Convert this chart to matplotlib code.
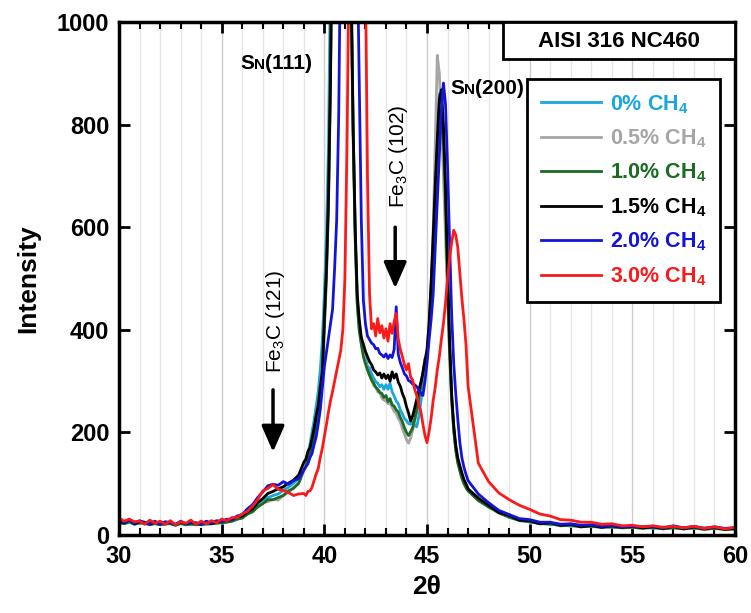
import numpy as np
import matplotlib
matplotlib.use("Agg")
import matplotlib.pyplot as plt
from matplotlib.patches import Rectangle
from matplotlib.offsetbox import TextArea, HPacker, AnnotationBbox
from matplotlib.ticker import MultipleLocator

plt.rcParams["font.family"] = ["Liberation Sans", "DejaVu Sans"]
plt.rcParams["mathtext.fontset"] = "custom"
plt.rcParams["mathtext.rm"] = "Liberation Sans"
plt.rcParams["mathtext.it"] = "Liberation Sans:italic"
plt.rcParams["mathtext.bf"] = "Liberation Sans:bold"

# Scan positions (2-theta): coarse before the S-phase peaks, fine across them, coarse in the tail
two_theta = np.concatenate([
    np.arange(30.0, 38.76, 0.25),
    np.round(np.arange(39.0, 46.95, 0.1), 1),
    np.arange(47.0, 60.01, 0.5),
])

labels = ["0% CH$_\\mathbf{4}$", "0.5% CH$_\\mathbf{4}$", "1.0% CH$_\\mathbf{4}$",
          "1.5% CH$_\\mathbf{4}$", "2.0% CH$_\\mathbf{4}$", "3.0% CH$_\\mathbf{4}$"]
colors = ["#1aa7dc", "#a6a6a6", "#1b6b24", "#000000", "#1414d8", "#fa1a1a"]

# ---- 0% CH4 ----
cyan_a = [24, 22, 25, 21, 23, 22, 20, 23, 20, 21,
          23, 19, 22, 21, 20, 23, 20, 21, 22, 24,
          24, 26, 27, 31, 34, 41, 47, 57, 65, 73,
          77, 80, 87, 93, 101, 110]
cyan_b = [132, 144, 161, 177, 201, 223, 251, 279, 321, 379,
          470, 580, 760, 1100, 1500, 2100, 2700, 3000, 3000, 2750,
          2250, 1680, 1280, 1060, 800, 600, 460, 410, 381, 359,
          346, 329, 326, 314, 306, 299, 296, 289, 293, 284,
          293, 284, 296, 279, 271, 261, 256, 244, 236, 227,
          223, 217, 216, 221, 214, 211, 231, 259, 296, 329,
          352, 400, 480, 575, 680, 780, 860, 850, 780, 650,
          495, 365, 268, 208, 170, 145, 128, 114, 103, 95]
cyan_c = [88, 70, 54, 46, 34, 31, 25, 24, 20, 21, 17, 19, 16, 17,
          15, 16, 14, 16, 13, 15, 14, 14, 13, 14, 12, 13, 11]

# ---- 0.5% CH4 ----
gray_a = [26, 23, 25, 24, 22, 24, 21, 23, 22, 21,
          23, 20, 23, 21, 22, 20, 23, 22, 22, 24,
          25, 26, 29, 30, 36, 40, 47, 54, 63, 65,
          69, 68, 77, 83, 93, 101]
gray_b = [131, 139, 151, 164, 181, 199, 223, 247, 281, 314,
          410, 510, 650, 890, 1290, 1870, 2450, 2850, 2950, 2750,
          2250, 1680, 1280, 1080, 790, 590, 455, 401, 371, 353,
          337, 323, 311, 303, 291, 289, 279, 277, 267, 263,
          261, 256, 257, 249, 241, 237, 227, 221, 207, 197,
          186, 179, 189, 204, 223, 239, 263, 287, 313, 339,
          360, 410, 490, 600, 760, 935, 900, 800, 700, 580,
          460, 350, 262, 205, 168, 142, 126, 112, 102, 94]
gray_c = [88, 70, 56, 43, 36, 29, 27, 22, 22, 19, 19, 16, 18, 15,
          16, 15, 15, 14, 15, 12, 15, 12, 14, 11, 14, 11, 12]

# ---- 1.0% CH4 ----
green_a = [25, 22, 26, 21, 24, 23, 21, 22, 20, 22,
           22, 19, 23, 20, 22, 20, 21, 22, 22, 23,
           24, 25, 27, 31, 33, 41, 45, 55, 61, 69,
           69, 73, 77, 86, 91, 101]
green_b = [126, 134, 149, 158, 176, 194, 216, 238, 271, 303,
           400, 500, 640, 880, 1280, 1850, 2400, 2800, 2900, 2700,
           2200, 1650, 1250, 1050, 780, 580, 450, 398, 372, 348,
           334, 322, 312, 302, 296, 288, 284, 278, 276, 268,
           272, 260, 266, 254, 251, 244, 240, 229, 221, 209,
           200, 194, 201, 209, 226, 244, 266, 289, 318, 344,
           348, 396, 470, 560, 660, 750, 820, 830, 770, 650,
           490, 360, 265, 205, 165, 140, 125, 110, 100, 92]
green_c = [86, 67, 55, 43, 35, 28, 26, 22, 22, 18, 19, 16, 17, 15,
           16, 14, 15, 13, 15, 12, 14, 12, 14, 11, 13, 11, 12]

# ---- 1.5% CH4 ----
black_a = [27, 24, 29, 22, 26, 25, 21, 25, 22, 23,
           25, 20, 25, 22, 24, 23, 21, 26, 22, 25,
           27, 29, 30, 35, 37, 45, 51, 63, 71, 81,
           85, 90, 94, 101, 107, 117]
black_b = [142, 148, 163, 170, 188, 208, 233, 252, 288, 318,
           425, 520, 660, 900, 1300, 1900, 2500, 2900, 3000, 2800,
           2300, 1700, 1300, 1100, 800, 600, 470, 420, 385, 372,
           358, 348, 338, 332, 322, 318, 312, 316, 306, 314,
           305, 312, 300, 318, 306, 314, 298, 290, 276, 266,
           250, 238, 222, 232, 248, 265, 282, 298, 316, 338,
           362, 412, 492, 582, 682, 772, 850, 868, 800, 680,
           520, 380, 275, 215, 175, 150, 135, 121, 108, 100]
black_c = [90, 72, 58, 44, 38, 29, 28, 22, 24, 19, 21, 16, 19, 15,
           18, 15, 17, 14, 16, 13, 17, 12, 16, 12, 15, 11, 13]

# ---- 2.0% CH4 ----
blue_a = [31, 25, 29, 23, 28, 24, 22, 27, 21, 26,
          24, 21, 27, 22, 25, 24, 21, 27, 23, 28,
          26, 31, 30, 37, 40, 51, 59, 73, 84, 96,
          99, 97, 104, 99, 106, 110]
blue_b = [127, 133, 139, 151, 159, 176, 191, 216, 244, 286,
          328, 356, 384, 412, 440, 520, 614, 820, 1200, 1800,
          2400, 2800, 2900, 2600, 2000, 1500, 1150, 880, 614, 458,
          412, 388, 381, 374, 371, 363, 364, 354, 351, 347,
          353, 344, 351, 346, 362, 445, 352, 336, 326, 314,
          310, 301, 299, 294, 293, 289, 283, 276, 272, 300,
          335, 380, 420, 470, 560, 650, 740, 830, 881, 840,
          720, 570, 430, 335, 275, 225, 180, 150, 132, 118]
blue_c = [106, 80, 63, 48, 40, 32, 30, 25, 25, 21, 22, 19, 20, 17,
          19, 16, 17, 16, 17, 14, 18, 14, 17, 13, 16, 13, 14]

# ---- 3.0% CH4 ----
red_a = [33, 27, 31, 26, 27, 21, 29, 23, 27, 21,
         28, 20, 26, 23, 29, 21, 27, 22, 28, 24,
         31, 28, 34, 34, 41, 46, 56, 69, 86, 91,
         98, 89, 87, 83, 77, 80]
red_b = [81, 77, 85, 86, 93, 106, 119, 129, 151, 169,
         192, 215, 240, 262, 280, 300, 320, 340, 360, 400,
         500, 750, 1100, 1600, 2300, 2800, 2900, 2700, 2200, 1600,
         1100, 700, 470, 402, 412, 388, 422, 394, 408, 384,
         402, 378, 412, 393, 416, 432, 382, 362, 348, 332,
         322, 334, 308, 302, 284, 272, 254, 241, 216, 194,
         180, 201, 228, 262, 288, 322, 348, 382, 412, 452,
         500, 540, 570, 594, 585, 560, 510, 460, 420, 370]
red_c = [290, 140, 104, 82, 69, 58, 50, 41, 37, 30, 29, 25, 25, 21,
         22, 18, 19, 16, 18, 15, 17, 14, 17, 13, 16, 12, 15]

series = [cyan_a + cyan_b + cyan_c,
          gray_a + gray_b + gray_c,
          green_a + green_b + green_c,
          black_a + black_b + black_c,
          blue_a + blue_b + blue_c,
          red_a + red_b + red_c]

fig = plt.figure(figsize=(7.51, 6.13), dpi=100)
ax = fig.add_axes([0.1585, 0.1272, 0.8202, 0.8369])

for y, c, lab in zip(series, colors, labels):
    ax.plot(two_theta, y, color=c, lw=2.0, label=lab)

ax.set_xlim(30, 60)
ax.set_ylim(0, 1000)
ax.xaxis.set_major_locator(MultipleLocator(5))
ax.xaxis.set_minor_locator(MultipleLocator(1))
ax.yaxis.set_major_locator(MultipleLocator(200))

ax.set_axisbelow(True)
ax.grid(which="minor", axis="x", color="#e6e6e6", lw=1.0)
ax.grid(which="major", axis="x", color="#cccccc", lw=1.0)

for sp in ax.spines.values():
    sp.set_linewidth(2.5)
ax.tick_params(which="both", direction="in", top=True, right=True)
ax.tick_params(which="major", length=8, width=2, labelsize=17, pad=7)
ax.tick_params(which="minor", length=5, width=1.5)
for t in ax.get_xticklabels() + ax.get_yticklabels():
    t.set_fontweight("bold")

ax.set_xlabel("2θ", fontsize=19, fontweight="bold", labelpad=5)
ax.set_ylabel("Intensity", fontsize=19, fontweight="bold", labelpad=12)


def phase_label(xy, hkl):
    bold = dict(fontsize=15, fontweight="bold", color="black")
    small = dict(fontsize=11, fontweight="bold", color="black")
    box = HPacker(children=[TextArea("S", textprops=bold),
                            TextArea("N", textprops=small),
                            TextArea(hkl, textprops=bold)],
                  align="baseline", pad=0, sep=0)
    ab = AnnotationBbox(box, xy, xycoords="data", frameon=False,
                        box_alignment=(0, 0.5), pad=0)
    ax.add_artist(ab)


phase_label((35.9, 920), "(111)")
phase_label((46.12, 871), "(200)")

ax.text(37.6, 417, "Fe$_3$C (121)", rotation=90, ha="center", va="center", fontsize=15)
ax.text(43.6, 739, "Fe$_3$C (102)", rotation=90, ha="center", va="center", fontsize=15)
arrow = dict(arrowstyle="-|>,head_length=0.8,head_width=0.35", color="black",
             lw=2.5, mutation_scale=20, shrinkA=0, shrinkB=0)
ax.annotate("", xy=(37.5, 162), xytext=(37.5, 283), arrowprops=arrow)
ax.annotate("", xy=(43.45, 481), xytext=(43.45, 600), arrowprops=arrow)

# Sample tag in the upper-right corner
ax.add_patch(Rectangle((0.623, 0.928), 0.377, 0.072, transform=ax.transAxes,
                       facecolor="white", edgecolor="black", lw=2, zorder=5, clip_on=False))
ax.text(0.8115, 0.962, "AISI 316 NC460", transform=ax.transAxes, ha="center", va="center",
        fontsize=16, fontweight="bold", zorder=6)

leg = ax.legend(loc="upper left", bbox_to_anchor=(0.662, 0.889), frameon=True,
                fancybox=False, edgecolor="black", framealpha=1,
                prop=dict(size=15.5, weight="bold"), handlelength=2.8,
                handletextpad=0.4, labelspacing=0.55, borderpad=0.65, borderaxespad=0)
leg.get_frame().set_linewidth(2)
for txt, ln in zip(leg.get_texts(), leg.get_lines()):
    txt.set_color(ln.get_color())

fig.savefig("out.png", dpi=100)
